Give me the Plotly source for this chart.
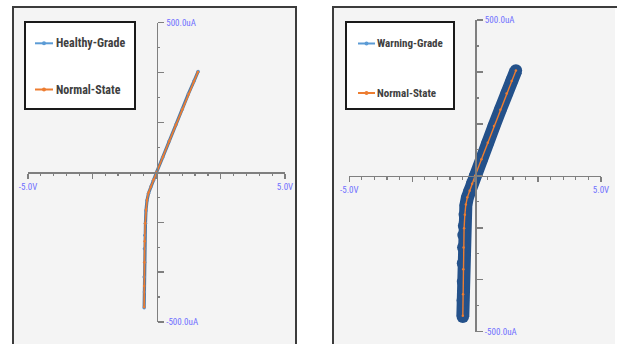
import numpy as np
import plotly.graph_objects as go

W, H = 617, 344

# ---------------- data ----------------
left_names = ["Healthy-Grade", "Normal-State"]
right_names = ["Warning-Grade", "Normal-State"]

# voltage [V], current [uA]
healthy_v = [-0.48, -0.47, -0.48, -0.46, -0.47, -0.45, -0.43, -0.41, -0.37, -0.31, -0.22, -0.12, 0.0,
             0.24, 0.49, 0.76, 1.01, 1.24, 1.46, 1.62]
healthy_i = [-452, -400, -350, -300, -255, -210, -170, -128, -94, -70, -48, -26, 0,
             50, 104, 160, 212, 262, 305, 337]

normal_l_v = [-0.48, -0.48, -0.47, -0.46, -0.44, -0.41, -0.37, -0.31, -0.22, -0.12, 0.0,
              0.25, 0.50, 0.75, 1.00, 1.25, 1.45, 1.61]
normal_l_i = [-450, -380, -300, -230, -170, -125, -92, -68, -48, -25, 0,
              52, 105, 158, 210, 262, 303, 335]

warning_v = [-0.49, -0.49, -0.48, -0.48, -0.47, -0.46, -0.44, -0.41, -0.37, -0.31, -0.22, -0.12, 0.0,
             0.25, 0.50, 0.75, 1.00, 1.25, 1.45, 1.62]
warning_i = [-452, -400, -340, -280, -230, -190, -160, -125, -95, -70, -48, -25, 0,
             52, 106, 160, 212, 264, 305, 338]

normal_r_v = [-0.49, -0.48, -0.47, -0.46, -0.44, -0.41, -0.37, -0.31, -0.22, -0.12, 0.0,
              0.25, 0.50, 0.75, 1.00, 1.25, 1.45, 1.62]
normal_r_i = [-449, -380, -300, -230, -168, -125, -92, -69, -48, -25, 0,
              53, 106, 160, 212, 264, 304, 338]

x_tick_vals = [-5.0, -2.5, 0.0, 2.5, 5.0]
x_tick_text = ["-5.0V", "", "", "", "5.0V"]
y_tick_vals = [-500.0, -1000 / 3, -500 / 3, 0.0, 500 / 3, 1000 / 3, 500.0]
y_tick_text = ["-500.0uA", "", "", "", "", "", "500.0uA"]
x_minor_step = 0.5
y_minor_step = 500 / 6

# ---------------- styles ----------------
BLUE = "#5b9bd5"
ORANGE = "#ed7d31"
NAVY = "#24518a"
AX = "#7f7f7f"
LBL = "#6f6fff"
PANEL_BG = "#f4f4f4"
BORDER = "#3c3c3c"
NARROW = "Roboto Condensed, Liberation Sans Narrow, Roboto, sans-serif"


def px(x):
    return x / W


def py(y):
    return 1 - y / H


fig = go.Figure()

# left panel traces
fig.add_trace(go.Scatter(x=healthy_v, y=healthy_i, mode="lines+markers", name=left_names[0],
                         line=dict(color="#4f7aa6", width=3.2),
                         marker=dict(size=3.5, color="#5f8fc2", line=dict(width=0)),
                         xaxis="x", yaxis="y", showlegend=False))
fig.add_trace(go.Scatter(x=normal_l_v, y=normal_l_i, mode="lines+markers", name=left_names[1],
                         line=dict(color=ORANGE, width=1.6),
                         marker=dict(size=2.5, color=ORANGE),
                         xaxis="x", yaxis="y", showlegend=False))
# right panel traces
fig.add_trace(go.Scatter(x=warning_v, y=warning_i, mode="lines+markers", name=right_names[0],
                         line=dict(color=NAVY, width=13),
                         marker=dict(size=12.5, color=NAVY, line=dict(width=0)),
                         xaxis="x2", yaxis="y2", showlegend=False))
fig.add_trace(go.Scatter(x=normal_r_v, y=normal_r_i, mode="lines+markers", name=right_names[1],
                         line=dict(color=ORANGE, width=1.4),
                         marker=dict(size=2.5, color=ORANGE),
                         xaxis="x2", yaxis="y2", showlegend=False))

# plot regions in pixels
left_xd = [px(28), px(285)]
left_yd = [py(322), py(22.7)]
right_xd = [px(349.3), px(601)]
right_yd = [py(331.7), py(20)]

tickfont = dict(family=NARROW, size=9, color=LBL)


def xaxis(domain, ypos, inside, overlay=None):
    d = dict(domain=domain, range=[-5, 5], anchor="free", position=ypos, automargin=False,
             showgrid=False, zeroline=False, fixedrange=True,
             showline=not inside, linecolor=AX, linewidth=1.4,
             tickmode="array", tickvals=x_tick_vals,
             ticktext=x_tick_text if not inside else [""] * len(x_tick_vals),
             showticklabels=not inside,
             ticks="inside" if inside else "outside", ticklen=5, tickwidth=1.4, tickcolor=AX,
             tickfont=tickfont,
             minor=dict(tickmode="linear", tick0=0, dtick=x_minor_step,
                        ticks="inside" if inside else "outside", ticklen=2.5,
                        tickwidth=1.2, tickcolor=AX, showgrid=False))
    if overlay:
        d.update(overlaying=overlay, matches=overlay)
    return d


def yaxis(domain, xpos, inside, overlay=None):
    d = dict(domain=domain, range=[-500, 500], anchor="free", position=xpos, side="right",
             automargin=False,
             showgrid=False, zeroline=False, fixedrange=True,
             showline=not inside, linecolor=AX, linewidth=1.4,
             tickmode="array", tickvals=y_tick_vals,
             ticktext=y_tick_text if not inside else [""] * len(y_tick_vals),
             showticklabels=not inside,
             ticks="inside" if inside else "outside", ticklen=6.5, tickwidth=1.4, tickcolor=AX,
             tickfont=tickfont,
             minor=dict(tickmode="linear", tick0=0, dtick=y_minor_step,
                        ticks="inside" if inside else "outside", ticklen=2.5,
                        tickwidth=1.2, tickcolor=AX, showgrid=False))
    if overlay:
        d.update(overlaying=overlay, matches=overlay)
    return d


lx0 = sum(left_yd) / 2
ly0 = sum(left_xd) / 2
rx0 = sum(right_yd) / 2
ry0 = sum(right_xd) / 2

fig.update_layout(
    width=W, height=H,
    margin=dict(l=0, r=0, t=0, b=0, autoexpand=False),
    paper_bgcolor="white",
    plot_bgcolor="rgba(0,0,0,0)",
    showlegend=False,
    hovermode=False,
    xaxis=xaxis(left_xd, lx0, False),
    yaxis=yaxis(left_yd, ly0, False),
    xaxis2=xaxis(right_xd, rx0, False),
    yaxis2=yaxis(right_yd, ry0, False),
    xaxis3=xaxis(left_xd, lx0, True, "x"),
    yaxis3=yaxis(left_yd, ly0, True, "y"),
    xaxis4=xaxis(right_xd, rx0, True, "x2"),
    yaxis4=yaxis(right_yd, ry0, True, "y2"),
)

shapes = []
# panel backgrounds
shapes.append(dict(type="rect", xref="paper", yref="paper", x0=px(13), x1=px(296), y0=py(360), y1=py(7),
                   fillcolor=PANEL_BG, line=dict(width=0), layer="below"))
shapes.append(dict(type="rect", xref="paper", yref="paper", x0=px(333), x1=px(615), y0=py(360), y1=py(7),
                   fillcolor=PANEL_BG, line=dict(width=0), layer="below"))
# panel borders
for (xa, ya, xb, yb) in [(13, 7, 13, 360), (12, 7, 297, 7), (296, 7, 296, 360),
                         (333, 7, 333, 360), (332, 7, 620, 7)]:
    shapes.append(dict(type="line", xref="paper", yref="paper", x0=px(xa), y0=py(ya), x1=px(xb), y1=py(yb),
                       line=dict(color=BORDER, width=2), layer="below"))

annotations = []


def legend_box(x0, x1, y0, y1, entries, sample_x0, sample_x1, text_x, fsize):
    shapes.append(dict(type="rect", xref="paper", yref="paper", x0=px(x0), x1=px(x1), y0=py(y1), y1=py(y0),
                       fillcolor="white", line=dict(color="#1a1a1a", width=2), layer="above"))
    for name, color, yy in entries:
        shapes.append(dict(type="line", xref="paper", yref="paper", x0=px(sample_x0), x1=px(sample_x1),
                           y0=py(yy), y1=py(yy), line=dict(color=color, width=2)))
        cx = (sample_x0 + sample_x1) / 2
        shapes.append(dict(type="circle", xref="paper", yref="paper", x0=px(cx - 2), x1=px(cx + 2),
                           y0=py(yy + 2), y1=py(yy - 2), fillcolor=color, line=dict(width=0)))
        annotations.append(dict(xref="paper", yref="paper", x=px(text_x), y=py(yy), xanchor="left",
                                yanchor="middle", showarrow=False, text=name,
                                font=dict(family=NARROW, size=fsize, color="#404040", weight="bold")))


legend_box(25, 135, 22, 109, [(left_names[0], BLUE, 43.3), (left_names[1], ORANGE, 89.5)],
           35, 53, 53.5, 12)
legend_box(346, 454, 22, 109, [(right_names[0], BLUE, 43.5), (right_names[1], ORANGE, 93)],
           358, 375, 375, 11)

fig.update_layout(shapes=shapes, annotations=annotations)

fig.write_html("out.html",
               config={"displayModeBar": False, "staticPlot": True},
               post_script="document.body.style.margin='0';document.body.style.padding='0';"
                           "document.documentElement.style.overflow='hidden';")
